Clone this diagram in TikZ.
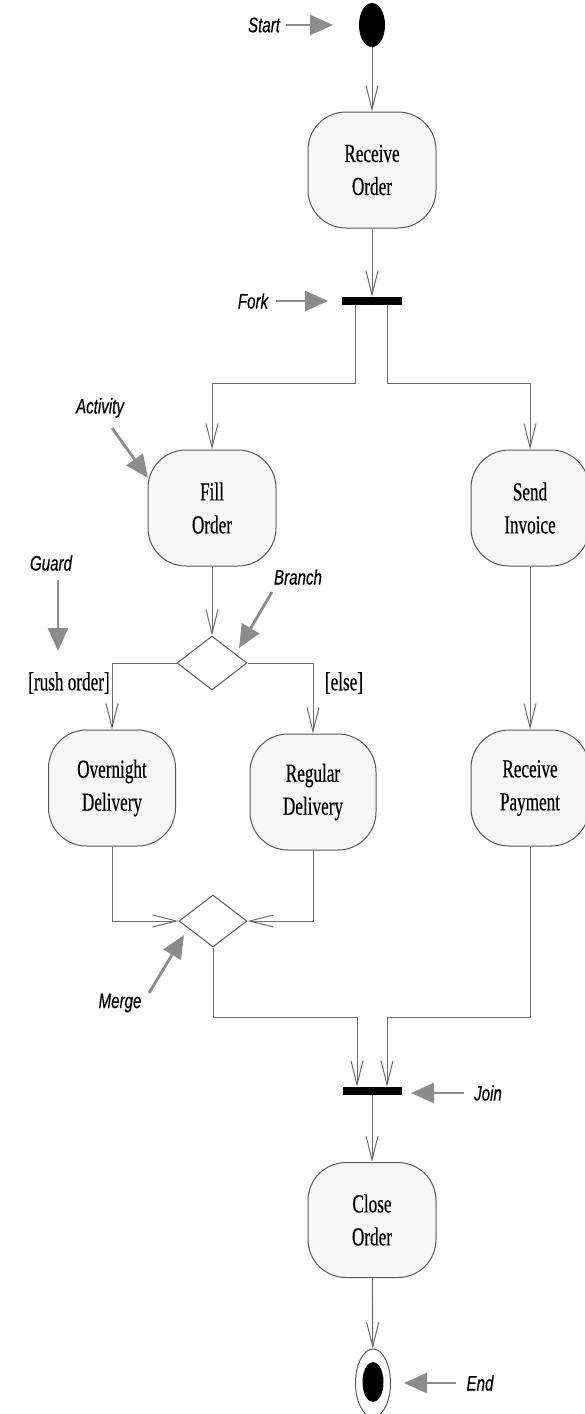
\documentclass[tikz,border=0pt]{standalone}
\usepackage{fontspec}
\setmainfont{Liberation Serif}[FakeStretch=0.66,FakeBold=0.4]
\newfontfamily\labfont{Liberation Sans}[FakeStretch=0.72,FakeBold=0.4]
\usetikzlibrary{arrows.meta,shapes.geometric,calc}
\definecolor{linegray}{gray}{0.42}
\definecolor{boxdraw}{gray}{0.35}
\definecolor{boxfill}{gray}{0.965}
\definecolor{notegray}{gray}{0.55}
\tikzset{
  activity/.style={rectangle, rounded corners=38pt, draw=boxdraw, line width=1pt, fill=boxfill,
    minimum width=128pt, minimum height=116pt, align=center, inner sep=0pt,
    font=\fontsize{26}{33}\selectfont},
  syncbar/.style={rectangle, fill=black, minimum width=60pt, minimum height=8pt, inner sep=0pt},
  decision/.style={diamond, draw=boxdraw, line width=1pt, fill=white, minimum width=70pt,
    minimum height=54pt, inner sep=0pt},
  flow/.style={draw=linegray, line width=1pt, -{Straight Barb[length=24pt,width=12pt]}},
  note/.style={font=\labfont\itshape\fontsize{21}{24}\selectfont, inner sep=0pt},
  notearrow/.style={draw=notegray, line width=2.8pt, -{Triangle[length=23pt,width=20pt]}},
  guardlab/.style={font=\fontsize{26}{30}\selectfont, inner sep=0pt}
}
\begin{document}
\begin{tikzpicture}[x=1pt,y=-1pt]
\useasboundingbox (0,0) rectangle (585,1414);
% nodes
\node[ellipse, fill=black, minimum width=26pt, minimum height=44pt, inner sep=0pt] (start) at (372,25) {};
\node[activity] (ro) at (372,170) {Receive\\Order};
\node[syncbar] (fork) at (372,301) {};
\node[activity] (fo) at (212,508) {Fill\\Order};
\node[activity, minimum width=118pt] (si) at (530,508) {Send\\Invoice};
\node[decision] (br) at (212,663) {};
\node[activity, minimum width=127pt] (on) at (112,788) {Overnight\\Delivery};
\node[activity, minimum width=126pt] (rd) at (313,792) {Regular\\Delivery};
\node[activity, minimum width=118pt] (rp) at (530,788) {Receive\\Payment};
\node[decision, minimum width=68pt, minimum height=52pt] (mg) at (213,921) {};
\node[syncbar, minimum width=59pt] (join) at (372,1091) {};
\node[activity, minimum height=115pt] (co) at (372,1220) {Close\\Order};
\node[ellipse, draw=boxdraw, line width=1pt, fill=white, minimum width=35pt, minimum height=68pt, inner sep=0pt] (endo) at (373,1383) {};
\node[ellipse, fill=black, minimum width=21pt, minimum height=40pt, inner sep=0pt] (endi) at (373,1382) {};
% guards
\node[guardlab] (g1) at (69,683) {[rush order]};
\node[guardlab] (g2) at (344,683) {[else]};
% helper coordinates
\coordinate (fout) at (372,383);
\coordinate (jin) at (372,1017);
% connectors
\draw[flow] (start) -- (ro);
\draw[flow] (ro) -- (fork);
\draw[flow] ($(fork.south)+(-17,0)$) -- ($(fout)+(-17,0)$) -| (fo.north);
\draw[flow] ($(fork.south)+(15,0)$) -- ($(fout)+(15,0)$) -| (si.north);
\draw[flow] (fo) -- (br);
\draw[flow] (br.west) -| (on.north);
\draw[flow] (br.east) -| (rd.north);
\draw[flow] (on.south) |- (mg.west);
\draw[flow] (rd.south) |- (mg.east);
\draw[flow] (si) -- (rp);
\draw[flow] (mg.south) |- ($(jin)+(-15,0)$) -- ($(join.north)+(-15,0)$);
\draw[flow] (rp.south) |- ($(jin)+(15,0)$) -- ($(join.north)+(15,0)$);
\draw[flow] (join) -- (co);
\draw[flow] (co) -- (endo);
% annotations
\node[note] (lstart) at (264,25) {Start};
\coordinate (astart) at (333,25);
\draw[notearrow] ($(lstart.east)+(6,0)$) -- (astart);
\node[note] (lfork) at (253,301) {Fork};
\coordinate (afork) at (328,301);
\draw[notearrow] ($(lfork.east)+(8,0)$) -- (afork);
\node[note] (lact) at (100,408) {Activity};
\coordinate (aact0) at (112,428);
\coordinate (aact) at (148,478);
\draw[notearrow] (aact0) -- (aact);
\node[note] (lguard) at (51,563) {Guard};
\coordinate (aguard0) at (58,580);
\coordinate (aguard) at (58,651);
\draw[notearrow] (aguard0) -- (aguard);
\node[note] (lbranch) at (298,577) {Branch};
\coordinate (abr0) at (272,592);
\coordinate (abr) at (239,648);
\draw[notearrow] (abr0) -- (abr);
\node[note] (lmerge) at (120,1003) {Merge};
\coordinate (amg0) at (149,993);
\coordinate (amg) at (184,935);
\draw[notearrow] (amg0) -- (amg);
\node[note] (ljoin) at (488,1093) {Join};
\coordinate (ajoin) at (411,1093);
\draw[notearrow] ($(ljoin.west)+(-10,0)$) -- (ajoin);
\node[note] (lend) at (480,1383) {End};
\coordinate (aend) at (404,1383);
\draw[notearrow] ($(lend.west)+(-10,0)$) -- (aend);
\end{tikzpicture}
\end{document}
